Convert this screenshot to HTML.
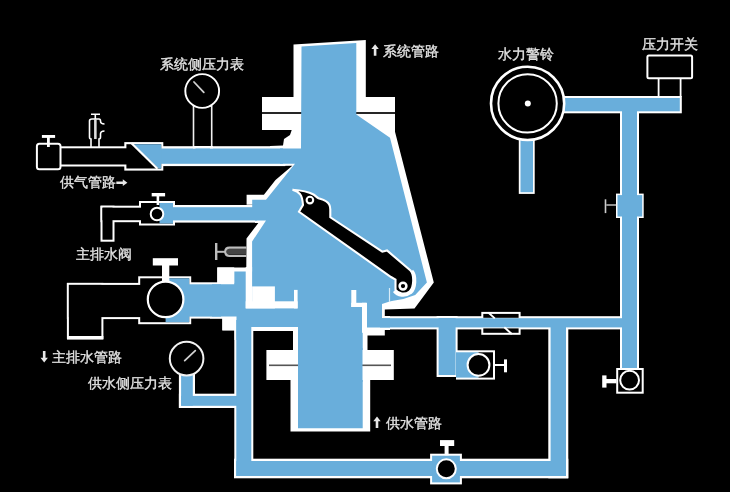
<!DOCTYPE html>
<html><head><meta charset="utf-8">
<style>
html,body{margin:0;padding:0;background:#000;width:730px;height:492px;overflow:hidden}
svg{display:block;will-change:transform}
text{font-family:"Liberation Sans",sans-serif;font-size:13.7px;fill:#e2e2e2;stroke:#e2e2e2;stroke-width:0.35px}
</style></head><body>
<svg width="730" height="492" viewBox="0 0 730 492">
<rect width="730" height="492" fill="#000"/>

<!-- ===== PASS 1: white outer shapes of pipe networks ===== -->
<g fill="#fff" stroke="#fff" stroke-linejoin="miter">
  <!-- gas left network -->
  <rect x="61" y="148.3" width="67" height="16.2" stroke-width="4"/>
  <rect x="126.4" y="144.2" width="34.8" height="24.3" stroke-width="4.2"/>
  <rect x="158" y="148.5" width="125" height="15.3" stroke-width="4.6"/>
  <!-- drain valve (upper) -->
  <rect x="102.5" y="207.7" width="39" height="12.5" stroke-width="4"/>
  <rect x="102.5" y="207.7" width="10" height="32" stroke-width="4"/>
  <rect x="141" y="203" width="32" height="20.5" stroke-width="4"/>
  <rect x="172" y="207.2" width="85" height="13.2" stroke-width="4.4"/>
  <!-- main drain (lower) -->
  <rect x="68.9" y="284.9" width="72" height="32.2" stroke-width="4"/>
  <rect x="68.9" y="284.9" width="32.5" height="52" stroke-width="4"/>
  <rect x="140.2" y="278.3" width="49" height="43.9" stroke-width="4"/>
  <rect x="189" y="284.3" width="32" height="32.3" stroke-width="4"/>
  <!-- supply gauge pipe -->
  <rect x="181.1" y="374" width="11.7" height="31.8" stroke-width="4.4"/>
  <rect x="181.1" y="395.9" width="56" height="9.9" stroke-width="4.4"/>
  <!-- vertical supply pipe -->
  <rect x="236.3" y="320" width="15" height="156" stroke-width="4"/>
  <!-- bottom pipe -->
  <rect x="236.3" y="461" width="329.7" height="15" stroke-width="4.6"/>
  <rect x="432.1" y="455.7" width="27.8" height="26.7" stroke-width="4"/>
  <rect x="550.6" y="320" width="15.4" height="156" stroke-width="4.6"/>
  <!-- right horizontal pipe -->
  <rect x="380" y="318.2" width="257" height="9.2" stroke-width="4"/>
  <rect x="483.3" y="313.9" width="35.3" height="18.9" stroke-width="4"/>
  <rect x="438.6" y="318" width="17" height="57" stroke-width="4"/>
  <rect x="458" y="352.3" width="35" height="25.3" stroke-width="4"/>
  <!-- right vertical pipe -->
  <rect x="622" y="98" width="15" height="271" stroke-width="4"/>
  <rect x="617.5" y="195.1" width="24.7" height="21.4" stroke-width="3"/>
  <!-- alarm pipe -->
  <rect x="560" y="98" width="119.8" height="13.3" stroke-width="4"/>
  <rect x="520.5" y="130" width="12.5" height="62.2" stroke-width="3.4"/>
</g>

<!-- body white silhouette -->
<polygon fill="#fff" points="283,145.5 270,146 270,166 292.3,165.8 275.5,180 263.9,194.7 246.6,194.7 246.6,204.8 255,204.8 255,223 258.3,223 246.5,238.6 246.3,267.4 217.3,267.4 217.3,283 210,283 210,318.6 222.3,318.6 222.3,330.5 234.5,330.5 234.5,340 252.5,340 252.5,331 293,331 293,365 290.5,365 290.5,431.6 370.2,431.6 370.2,365 367.5,365 367.5,335.5 384.8,335.5 384.8,330 390,330 390,316 384.8,316 384.8,309.5 414.5,308.6 433.8,282.5 395,131.7 395,97 365.8,97 365.8,40 293.5,44.5 293.5,97 262,97 262,130 291.7,130 290,135 284,139"/>
<!-- upper flange dark line -->
<rect x="262" y="112" width="133" height="2" fill="#262626"/>

<!-- ===== PASS 2: fills ===== -->
<g fill="#000">
  <rect x="61" y="148.3" width="69" height="16.2"/>
  <rect x="126.4" y="144.2" width="34.8" height="24.3"/>
  <rect x="102.5" y="207.7" width="41" height="12.5"/>
  <rect x="102.5" y="207.7" width="10" height="32"/>
  <rect x="141" y="203" width="32" height="20.5"/>
  <rect x="68.9" y="284.9" width="73" height="32.2"/>
  <rect x="68.9" y="284.9" width="32.5" height="52"/>
  <rect x="140.2" y="278.3" width="49" height="43.9"/>
</g>
<g fill="#69aedb">
  <rect x="158" y="148.5" width="125" height="15.3"/>
  <polygon points="133,144.2 161.2,144.2 161.2,168.5 158.5,168.5"/>
  <rect x="159.5" y="203" width="13.5" height="20.5"/>
  <rect x="172" y="207.2" width="85" height="13.2"/>
  <rect x="165.6" y="278.3" width="23.6" height="43.9"/>
  <rect x="189" y="284.3" width="32" height="32.3"/>
  <rect x="181.1" y="374" width="11.7" height="31.8"/>
  <rect x="181.1" y="395.9" width="56" height="9.9"/>
  <rect x="236.3" y="320" width="15" height="156"/>
  <rect x="236.3" y="461" width="329.7" height="15"/>
  <rect x="432.1" y="455.7" width="27.8" height="26.7"/>
  <rect x="550.6" y="320" width="15.4" height="156"/>
  <rect x="380" y="318.2" width="257" height="9.2"/>
  <rect x="438.6" y="318" width="17" height="57"/>
  <rect x="456" y="352.3" width="22.5" height="25.3"/>
  <rect x="622" y="98" width="15" height="271"/>
  <rect x="617.5" y="195.1" width="24.7" height="21.4"/>
  <rect x="560" y="98" width="119.8" height="13.3"/>
  <rect x="520.5" y="130" width="12.5" height="62.2"/>
  <!-- body blue -->
  <polygon points="301.5,46.6 356.3,43.1 356.3,114.5 390,137.8 426.9,282.6 415.2,295 403.3,299 393.2,300.8 389.6,301.6 382,304 382,318.2 390,318.2 390,327.4 362.7,327.4 362.7,428.3 298,428.3 298,327 250.5,327 250.5,340 236.5,340 236.5,316.6 212,316.6 212,284.3 234.2,284.3 234.2,271.5 252.1,271.5 252.1,241.5 266,220.5 255,220.5 255,208 252.2,208 252.2,199.8 266,199.8 295,163.8 280,163.8 280,148.5 301,148.5"/>
</g>
<!-- check valve housing black parts -->
<rect x="483.3" y="313.9" width="35.3" height="3.9" fill="#000"/>
<rect x="483.3" y="328.4" width="35.3" height="4.4" fill="#000"/>
<line x1="488.3" y1="312.5" x2="494.8" y2="318.4" stroke="#fff" stroke-width="1.9"/>
<line x1="504.3" y1="327.3" x2="511.8" y2="334" stroke="#fff" stroke-width="1.9"/>
<rect x="478.5" y="352.3" width="14.5" height="25.3" fill="#000"/>

<!-- gas housing diagonal -->
<line x1="131.5" y1="143.3" x2="157.5" y2="168.8" stroke="#fff" stroke-width="2.2"/>

<!-- white overlays in body -->
<g fill="#fff">
  <rect x="245.7" y="267" width="6.4" height="41.4"/>
  <rect x="252.1" y="286.4" width="22.8" height="22"/>
  <rect x="245.7" y="301.3" width="51.9" height="7.1"/>
  <rect x="294" y="289.9" width="3.6" height="18.5"/>
  <rect x="351.3" y="290" width="5" height="17"/>
  <rect x="351.3" y="302.8" width="15" height="4.2"/>
  <rect x="362" y="302.8" width="5" height="30"/>
  <rect x="222.4" y="317.8" width="13" height="12.4"/>
  <rect x="217.3" y="267.4" width="16.9" height="15.6"/>
  <rect x="67" y="336" width="36.4" height="3.6"/>
</g>
<line x1="389.5" y1="288" x2="389.5" y2="302" stroke="#d8ecf8" stroke-width="1.2"/>

<!-- lower flanges -->
<rect x="266.4" y="350" width="127.4" height="30" fill="#fff"/>
<rect x="269" y="364.5" width="122" height="1.6" fill="#555"/>
<rect x="298" y="348" width="64.5" height="34" fill="#69aedb"/>

<!-- arm -->
<path fill="none" stroke="#fff" stroke-width="3.4" d="M411.8,271 C416,275.5 415.5,289 410.5,292.5 C405.5,296.5 397.5,295.5 394.3,291"/>
<path fill="#000" stroke="#fff" stroke-width="2.1" stroke-linejoin="miter"
 d="M292.5,189.8 C299,190.2 308,191.5 313.5,194.5 C315.5,195.6 316.5,197.3 318.5,198.3 C322,199.5 327,200.5 329.2,204.5 C330.2,206.3 330.3,208 330.3,209.5 L330.3,217.3 L382.3,251.7 L387,250.5 L410.5,270.5 C414.5,275 414,288 409.5,291.5 C405,295 398.5,294 395.5,290 L395.5,279.6 L391,277 L299,211.8 L303,205 C302.6,200 302,196.5 300.2,194.3 C298.2,192 295.5,190.7 292.5,189.8 Z"/>
<circle cx="309.9" cy="200.1" r="3.3" fill="none" stroke="#fff" stroke-width="2.1"/>
<circle cx="403" cy="286.1" r="3.4" fill="none" stroke="#fff" stroke-width="2.5"/>

<!-- gas left: T handle and needle valve -->
<rect x="36.9" y="143.8" width="23.6" height="25.4" rx="2.5" fill="#000" stroke="#fff" stroke-width="2"/>
<rect x="41.9" y="135" width="13.2" height="2.9" fill="#fff"/>
<rect x="47" y="137" width="2.8" height="10" fill="#fff"/>
<path fill="none" stroke="#fff" stroke-width="1.6" d="M91,147 L91,139 C90,139 89.5,138.5 89.5,137 L89.5,121 C89.5,119.5 90.5,119 92,119 L99,119 C100,119 100.5,120 100.5,121 C100.5,123 101.5,124 104.5,124 M104.5,131 C101.5,131 100.5,132 100.5,134 L100.5,137 C100.5,138.5 100,139 99,139 L99,147 M91,114.3 L100,114.3 M95.3,114.3 L95.3,139"/>
<rect x="94.2" y="119" width="2.4" height="20" fill="#ddd"/>

<!-- system gauge -->
<rect x="193.5" y="106" width="18.2" height="41" fill="#000" stroke="#f0f0f0" stroke-width="1.6"/>
<circle cx="202.2" cy="91" r="16.9" fill="#000" stroke="#fff" stroke-width="1.9"/>
<line x1="194" y1="82" x2="203.8" y2="92.3" stroke="#d0d0d0" stroke-width="1.8" stroke-linecap="round"/>
<rect x="193" y="146" width="20" height="2.4" fill="#fff"/>
<rect x="195.5" y="148.5" width="14.5" height="2" fill="#69aedb"/>

<!-- drain valve (upper) ball & handle -->
<circle cx="157" cy="214" r="6.3" fill="#000" stroke="#fff" stroke-width="2"/>
<rect x="151.7" y="193" width="13.4" height="3.4" fill="#fff"/>
<rect x="156.6" y="196" width="2.6" height="9" fill="#fff"/>

<!-- main drain ball & handle -->
<circle cx="165.6" cy="299.4" r="17.8" fill="#000" stroke="#fff" stroke-width="2.2"/>
<rect x="152.8" y="258.2" width="25.2" height="7.3" fill="#fff"/>
<rect x="162" y="265" width="7.3" height="16" fill="#fff"/>

<!-- needle screw -->
<rect x="227" y="249" width="19" height="5" fill="#444"/>
<g fill="none" stroke="#bdbdbd" stroke-width="2.3">
  <path d="M246.5,247.6 L229.5,247.6 C226.5,247.6 225.3,249.5 225.3,251.8 C225.3,254 226.5,255.9 229.5,255.9 L246.5,255.9"/>
  <line x1="216.2" y1="243" x2="216.2" y2="260" stroke-width="2.4"/>
  <line x1="216" y1="251.8" x2="225.5" y2="251.8" stroke-width="2"/>
</g>
<!-- supply gauge -->
<circle cx="186.6" cy="358.6" r="16.8" fill="#000" stroke="#f2f2f2" stroke-width="2"/>
<line x1="184.7" y1="360.6" x2="195.3" y2="350.6" stroke="#d0d0d0" stroke-width="1.8" stroke-linecap="round"/>

<!-- bottom valve -->
<circle cx="446.3" cy="468.8" r="9.5" fill="#000" stroke="#fff" stroke-width="2"/>
<rect x="440" y="440.1" width="14.2" height="5.9" fill="#fff"/>
<rect x="444.6" y="445.3" width="4" height="10" fill="#fff"/>

<!-- check valve lower ball & handle -->
<circle cx="478.5" cy="364.9" r="10.9" fill="#000" stroke="#fff" stroke-width="2"/>
<rect x="494" y="364" width="10.5" height="2" fill="#fff"/>
<rect x="504" y="359.4" width="3" height="12.9" fill="#fff"/>

<!-- pressure valve box bottom right -->
<rect x="617.2" y="369" width="25.5" height="23.7" fill="#000" stroke="#fff" stroke-width="2"/>
<circle cx="629.6" cy="380.2" r="9.4" fill="none" stroke="#fff" stroke-width="2"/>
<rect x="602.2" y="375.4" width="4.3" height="12.2" fill="#fff"/>
<rect x="606" y="379" width="10.5" height="4.3" fill="#fff"/>

<!-- gate valve handle -->
<rect x="606.3" y="204.3" width="10" height="1.4" fill="#ccc"/>
<rect x="604.7" y="199.3" width="1.6" height="13.8" fill="#ccc"/>

<!-- alarm gong -->
<circle cx="527.6" cy="103.4" r="36.6" fill="#000" stroke="#fff" stroke-width="2.6"/>
<circle cx="527.6" cy="103.4" r="29.2" fill="none" stroke="#fff" stroke-width="2"/>
<circle cx="527.8" cy="103.4" r="3" fill="#fff"/>

<!-- pressure switch -->
<rect x="647.4" y="55.4" width="44.7" height="22.8" rx="1.5" fill="#000" stroke="#fff" stroke-width="2"/>
<line x1="658.6" y1="79" x2="658.6" y2="97" stroke="#fff" stroke-width="1.8"/>
<line x1="680.6" y1="79" x2="680.6" y2="97" stroke="#fff" stroke-width="1.8"/>

<!-- labels -->
<text x="159.5" y="69">系统侧压力表</text>
<text x="383" y="55.5">系统管路</text>
<text x="498.3" y="59">水力警铃</text>
<text x="642.3" y="48.7">压力开关</text>
<text x="60.3" y="186.9">供气管路</text>
<text x="75.9" y="259">主排水阀</text>
<text x="51.9" y="362">主排水管路</text>
<text x="88.1" y="388">供水侧压力表</text>
<text x="385.9" y="428">供水管路</text>
<!-- arrows -->
<g fill="#e8e8e8">
  <path d="M375.1,44.3 L371.4,48.9 L373.8,48.9 L373.8,55.7 L376.4,55.7 L376.4,48.9 L378.8,48.9 Z"/>
  <path d="M377,416.6 L373.3,421.2 L375.7,421.2 L375.7,428 L378.3,428 L378.3,421.2 L380.7,421.2 Z"/>
  <path d="M44.2,362.4 L40.5,357.8 L42.9,357.8 L42.9,351 L45.5,351 L45.5,357.8 L47.9,357.8 Z"/>
  <path d="M127.4,182.7 L122.8,179.3 L122.8,181.5 L116.3,181.5 L116.3,183.9 L122.8,183.9 L122.8,186.1 Z"/>
</g>
</svg>
</body></html>
